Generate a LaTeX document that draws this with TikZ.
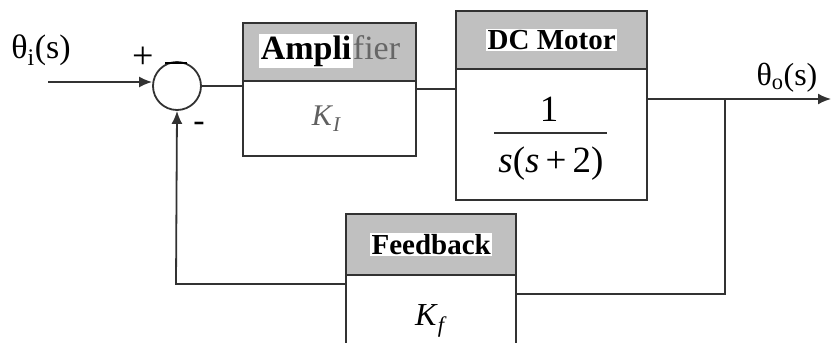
\documentclass[tikz,border=0pt]{standalone}
\usepackage{fontspec}
\setmainfont{Liberation Serif}
\usetikzlibrary{arrows.meta}
\definecolor{hdr}{RGB}{192,192,192}
\definecolor{ln}{RGB}{50,50,50}
\setlength{\fboxsep}{1.5pt}
\begin{document}
\begin{tikzpicture}[x=1pt,y=-1pt,
  hbox/.style={draw=ln,line width=2.4pt,fill=hdr,rectangle,inner sep=0pt,anchor=north west},
  bbox/.style={draw=ln,line width=2.4pt,fill=white,rectangle,inner sep=0pt,anchor=north west},
  wire/.style={draw=ln,line width=1.8pt},
  arr/.style={wire,-{Latex[length=13pt,width=11pt]}},
  lbl/.style={font=\fontsize{29}{31}\selectfont\bfseries,fill=white,inner sep=1.5pt},
  big/.style={font=\fontsize{37}{39}\selectfont,inner sep=0pt}]
\path[fill=white] (0,0) rectangle (831,343);
\useasboundingbox (0,0) rectangle (831,343);
\begin{scope}
\clip (0,0) rectangle (831,343);
% summing junction
\node[circle,draw=ln,line width=1.8pt,minimum size=48pt,inner sep=0pt] (sum) at (177,86) {};
% amplifier
\node[hbox,minimum width=173pt,minimum height=58pt] (ampH) at (242,22) {};
\node[bbox,minimum width=173pt,minimum height=75pt] (ampB) at (242,80) {};
\node[font=\fontsize{34}{36}\selectfont,inner sep=0pt] (ampT) at ([yshift=1pt]ampH.center) {\colorbox{white}{\textbf{Ampli}}{\color{gray!80!black}fier}};
\node[font=\fontsize{30}{32}\selectfont,text=gray!75!black] (ampK) at ([xshift=-3pt]ampB.center) {\textit{K}\textsubscript{\textit{I}}};
% motor
\node[hbox,minimum width=191pt,minimum height=58pt] (motH) at (455,10) {};
\node[bbox,minimum width=191pt,minimum height=131pt] (motB) at (455,68) {};
\node[lbl] (motT) at (motH.center) {DC Motor};
\node[big] (num) at (549,109) {1};
\node[big] (den) at (551,164) {\textit{s}(\textit{s}\,+\,2)};
\coordinate (barL) at (494,133);
\coordinate (barR) at (607,133);
\draw[draw=ln,line width=1.4pt] (barL) -- (barR);
% feedback
\node[hbox,minimum width=170pt,minimum height=61pt] (fbH) at (345,213) {};
\node[bbox,minimum width=170pt,minimum height=80pt] (fbB) at (345,274) {};
\node[lbl] (fbT) at (fbH.center) {Feedback};
\node[font=\fontsize{32}{34}\selectfont] (fbK) at ([yshift=-6pt]fbB.center) {\textit{K}\textsubscript{\textit{f}}};
% labels
\node[font=\fontsize{34}{36}\selectfont] (thi) at (41,50) {θ\textsubscript{i}(s)};
\node[font=\fontsize{32}{34}\selectfont] (tho) at (787,78) {θ\textsubscript{o}(s)};
\node[font=\fontsize{38}{40}\selectfont,inner sep=0pt] (plus) at (143,58) {+};
\node[inner sep=0pt] (mtop) at (176,63) {\rule{22pt}{2.2pt}};
\node[font=\fontsize{34}{36}\selectfont,inner sep=0pt] (mbot) at (199,127) {-};
% coordinates
\coordinate (in) at (48,82);
\coordinate (out) at (831,99);
\coordinate (br) at (725,99);
\coordinate (fbl) at (176,284);
\coordinate (fbr) at (725,294);
% wires
\draw[arr] (in) -- (in -| sum.west);
\draw[wire] (sum.east) -- (sum.east -| ampB.west);
\draw[wire] (ampB.east |- 0,89) -- (motB.west |- 0,89);
\draw[arr] (motB.east |- out) -- (out);
\draw[wire] (br) -- (fbr) -- (fbr -| fbB.east);
\draw[arr] (fbl -| fbB.west) -- (fbl) -- (sum.south);
\end{scope}
\end{tikzpicture}
\end{document}
